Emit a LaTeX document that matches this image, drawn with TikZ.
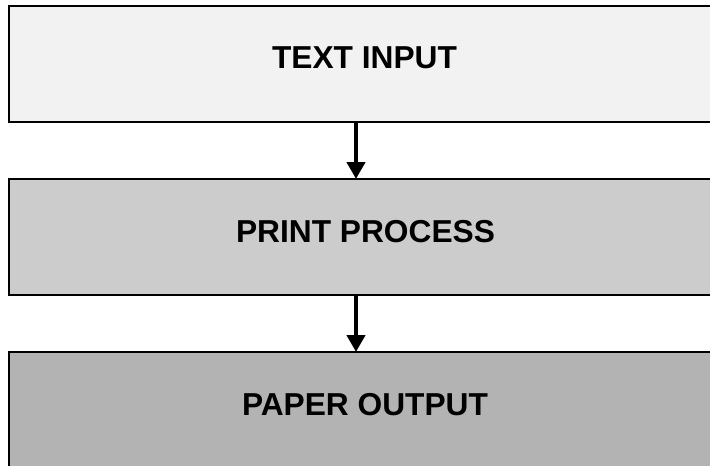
\documentclass[tikz,border=0pt]{standalone}
\usepackage{fontspec}
\setmainfont{Liberation Sans}
\usetikzlibrary{arrows.meta}
\begin{document}
\begin{tikzpicture}[x=1pt,y=-1pt,
  stage/.style={draw=black, line width=2.6pt, minimum width=711pt, minimum height=116pt, inner sep=0pt, outer sep=0pt},
  stagetext/.style={font=\fontsize{31.7}{36}\selectfont\bfseries, inner sep=0pt},
  flow/.style={line width=4.5pt, -{Triangle[width=18pt,length=17pt]}}]
\useasboundingbox (0,0) rectangle (710,466);
\clip (0,0) rectangle (710,466);
\fill[white] (0,0) rectangle (710,466);
\node[stage, fill={rgb,255:red,242;green,242;blue,242}] (b1) at (364.5,64) {};
\node[stage, fill={rgb,255:red,204;green,204;blue,204}] (b2) at (364.5,237) {};
\node[stage, fill={rgb,255:red,179;green,179;blue,179}] (b3) at (364.5,410) {};
\node[stagetext] (t1) at (364.5,58) {TEXT INPUT};
\node[stagetext] (t2) at (365.5,231.5) {PRINT PROCESS};
\node[stagetext] (t3) at (365,405) {PAPER OUTPUT};
\draw[flow] (b1.south -| 356,0) -- (b2.north -| 356,0);
\draw[flow] (b2.south -| 356,0) -- (b3.north -| 356,0);
\end{tikzpicture}
\end{document}
